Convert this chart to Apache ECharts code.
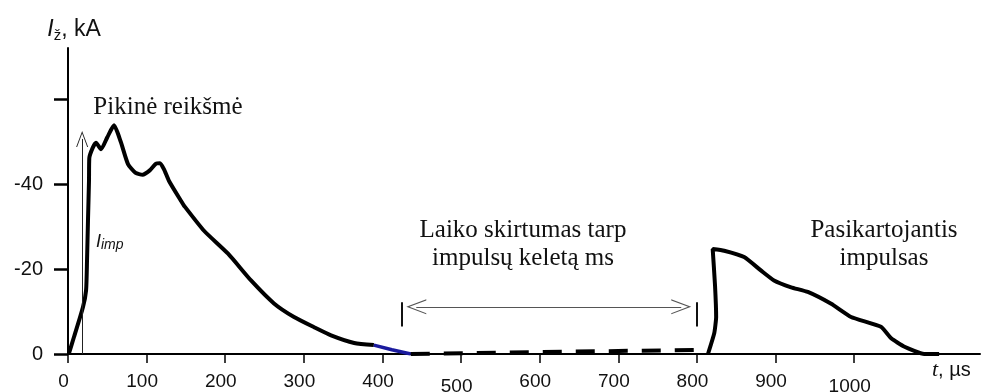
<!DOCTYPE html>
<html>
<head>
<meta charset="utf-8">
<script src="https://cdn.jsdelivr.net/npm/echarts@6/dist/echarts.min.js"></script>
<style>
  html, body { margin: 0; padding: 0; background: #fff; }
  #chart { width: 984px; height: 392px; }
</style>
</head>
<body>
<div id="chart"></div>
<script>
// pirmas impulsas (t, µs / I, kA modulis)
const pulse1T = [1, 7.6, 19, 23, 24.2, 25.4, 26.7, 27.1, 31.4, 35.6, 42, 50, 58.5, 67, 76.3, 86, 95, 104, 112, 117, 122, 128.5, 143.8, 147.6, 173, 203.6, 232.8, 262, 287.5, 313, 334.6, 364, 389];
const pulse1I = [0, 4, 11, 15, 22, 31.3, 40.7, 46.1, 48.5, 49.7, 48.2, 51, 53.8, 50, 44.7, 42.6, 42.2, 43.2, 44.8, 44.9, 43.5, 40.7, 36, 34.9, 29, 23.6, 17.3, 11.9, 8.7, 6.3, 4.4, 2.6, 2.1];
// mėlyna uodega
const tailT = [389, 412, 436];
const tailI = [2.1, 1.0, 0];
// pertrauka tarp impulsų (brūkšninė)
const gapT = [436, 809];
const gapI = [0, 1];
// pasikartojantis impulsas
const pulse2T = [814, 822, 824.4, 823, 820, 834.6, 860, 881.7, 898, 919.8, 941, 970.7, 996, 1034, 1047, 1064, 1089, 1108];
const pulse2I = [0, 4.9, 8.7, 16, 24.7, 24.3, 22.8, 19.6, 17.3, 15.7, 14.6, 11.8, 8.7, 6.4, 3.7, 1.7, 0, 0];

const xTicks = [0, 100, 200, 300, 400, 500, 600, 700, 800, 900, 1000];
const yTicks = [0, 20, 40, 60];
const yLabels = [0, 20, 40];

// anotacijos
const impArrowT = 18;
const impArrowTop = 50.6;
const gapStart = 425;
const gapEnd = 800;
const gapArrowFrom = 443;
const gapArrowTo = 780;
const gapLevel = 11.1;
const gapBarLow = 6.5;
const gapBarHigh = 12.2;

function zip(a, b) {
    return a.map((v, i) => [v, b[i]]);
}

const chevron = 'path://M0,10 L5,0 L10,10 L9.2,10 L5,1.6 L0.8,10 Z';

var dom = document.getElementById('chart');
var myChart = echarts.init(dom, null, { renderer: 'canvas' });

const option = {
    animation: false,
    grid: { left: 68, right: 4, top: 48, bottom: 38, outerBoundsMode: 'none' },
    xAxis: {
        type: 'value',
        min: 0,
        max: 1160,
        name: '{t|t}{n|, µs}',
        nameLocation: 'end',
        nameGap: -48,
        nameTextStyle: {
            verticalAlign: 'top',
            padding: [5, 0, 0, 0],
            rich: {
                t: { fontFamily: 'Liberation Serif', fontStyle: 'italic', fontSize: 22, color: '#111' },
                n: { fontFamily: 'Liberation Sans', fontSize: 20, color: '#111' }
            }
        },
        axisLine: { lineStyle: { color: '#000', width: 2 } },
        axisTick: { customValues: xTicks, length: 9, lineStyle: { color: '#000', width: 1.5 } },
        axisLabel: {
            customValues: xTicks,
            margin: 18,
            fontFamily: 'Liberation Sans',
            fontSize: 19,
            color: '#111',
            formatter: function (v) {
                if (v === 500 || v === 1000) return '{low|' + v + '}';
                return '{n|' + v + '}';
            },
            rich: {
                n: { fontFamily: 'Liberation Sans', fontSize: 19, color: '#111', padding: [0, 9, 0, 0] },
                low: { fontFamily: 'Liberation Sans', fontSize: 19, color: '#111', padding: [5, 9, 0, 0] }
            }
        },
        splitLine: { show: false }
    },
    yAxis: {
        type: 'value',
        min: 0,
        max: 72,
        name: '{i|I}{s|ž}{n|, kA}',
        nameLocation: 'end',
        nameGap: 5,
        nameTextStyle: {
            padding: [0, 0, 0, 12],
            rich: {
                i: { fontFamily: 'Liberation Sans', fontStyle: 'italic', fontSize: 23, color: '#111', lineHeight: 26 },
                s: { fontFamily: 'Liberation Sans', fontSize: 15, color: '#111', lineHeight: 26, verticalAlign: 'bottom' },
                n: { fontFamily: 'Liberation Sans', fontSize: 23, color: '#111', lineHeight: 26 }
            }
        },
        axisLine: { show: true, lineStyle: { color: '#000', width: 2 } },
        axisTick: { show: true, customValues: yTicks, length: 14, lineStyle: { color: '#000', width: 2.5 } },
        axisLabel: {
            customValues: yLabels,
            margin: 25,
            fontFamily: 'Liberation Sans',
            fontSize: 20,
            color: '#111',
            formatter: function (v) { return v === 0 ? '0' : '-' + v; }
        },
        splitLine: { show: false }
    },
    graphic: [
        {
            type: 'text',
            style: {
                x: 168, y: 107, text: 'Pikinė reikšmė',
                font: '25px "Liberation Serif"', fill: '#111',
                align: 'center', verticalAlign: 'middle'
            }
        },
        {
            type: 'text',
            style: {
                x: 523, y: 244, text: 'Laiko skirtumas tarp\nimpulsų keletą ms',
                font: '25px "Liberation Serif"', fill: '#111', lineHeight: 28,
                align: 'center', verticalAlign: 'middle'
            }
        },
        {
            type: 'text',
            style: {
                x: 884, y: 244, text: 'Pasikartojantis\nimpulsas',
                font: '25px "Liberation Serif"', fill: '#111', lineHeight: 28,
                align: 'center', verticalAlign: 'middle'
            }
        },
        {
            type: 'text',
            style: {
                x: 96, y: 242, text: '{i|I}{s|imp}',
                align: 'left', verticalAlign: 'middle',
                rich: {
                    i: { fontFamily: 'Liberation Sans', fontStyle: 'italic', fontSize: 18, fill: '#111', lineHeight: 20 },
                    s: { fontFamily: 'Liberation Sans', fontStyle: 'italic', fontSize: 14, fill: '#111', lineHeight: 20, verticalAlign: 'bottom' }
                }
            }
        }
    ],
    series: [
        {
            type: 'line',
            name: 'pulse1',
            data: zip(pulse1T, pulse1I),
            showSymbol: false,
            smooth: 0.2,
            z: 3,
            lineStyle: { color: '#000', width: 4 },
            markLine: {
                silent: true,
                animation: false,
                label: { show: false },
                emphasis: { disabled: true },
                data: [
                    [
                        { coord: [impArrowT, 0], symbol: 'none' },
                        { coord: [impArrowT, impArrowTop], symbol: chevron, symbolSize: [12, 16],
                          lineStyle: { color: '#222', width: 1, type: 'solid' } }
                    ],
                    [
                        { coord: [gapArrowFrom, gapLevel], symbol: chevron, symbolSize: [15, 20] },
                        { coord: [gapArrowTo, gapLevel], symbol: chevron, symbolSize: [15, 20],
                          lineStyle: { color: '#555', width: 1, type: 'solid' } }
                    ],
                    [
                        { coord: [gapStart, gapBarLow], symbol: 'none' },
                        { coord: [gapStart, gapBarHigh], symbol: 'none',
                          lineStyle: { color: '#111', width: 2, type: 'solid' } }
                    ],
                    [
                        { coord: [gapEnd, gapBarLow], symbol: 'none' },
                        { coord: [gapEnd, gapBarHigh], symbol: 'none',
                          lineStyle: { color: '#111', width: 2, type: 'solid' } }
                    ]
                ]
            }
        },
        {
            type: 'line',
            name: 'tail',
            data: zip(tailT, tailI),
            showSymbol: false,
            z: 3,
            lineStyle: { color: '#1a1a9e', width: 3.5 }
        },
        {
            type: 'line',
            name: 'gap',
            data: zip(gapT, gapI),
            showSymbol: false,
            z: 3,
            lineStyle: { color: '#000', width: 4, type: [19, 14] }
        },
        {
            type: 'line',
            name: 'pulse2',
            data: zip(pulse2T, pulse2I),
            showSymbol: false,
            smooth: 0.15,
            z: 3,
            lineStyle: { color: '#000', width: 4 }
        }
    ]
};

myChart.setOption(option);
window.addEventListener('resize', myChart.resize);
</script>
</body>
</html>
